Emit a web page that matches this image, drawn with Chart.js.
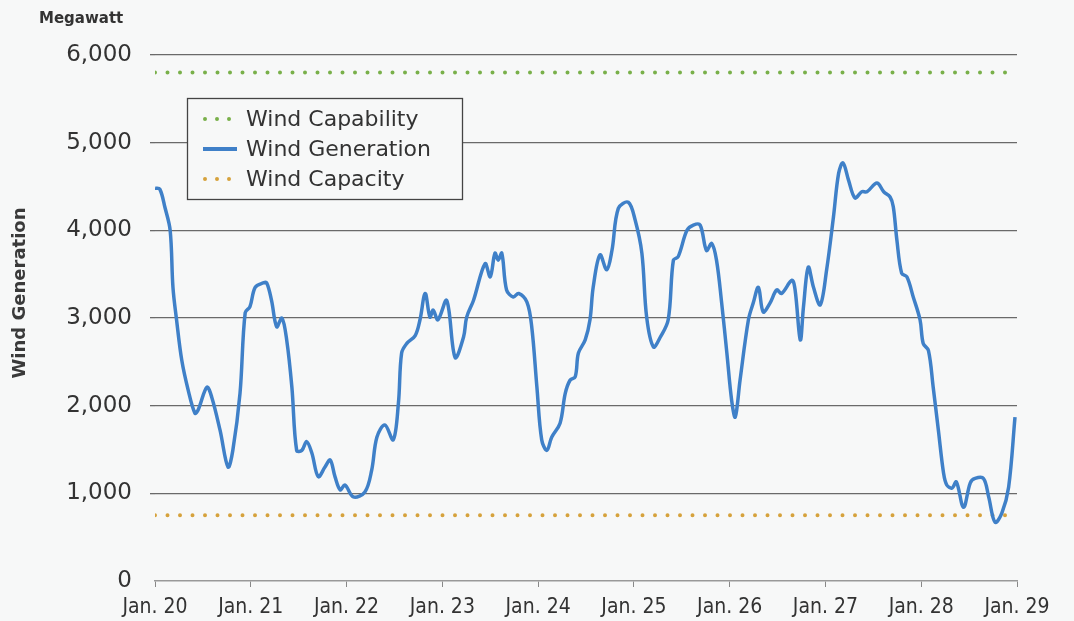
<!DOCTYPE html>
<html>
<head>
<meta charset="utf-8">
<script src="https://cdn.jsdelivr.net/npm/chart.js@4.4.0/dist/chart.umd.min.js"></script>
<style>
  html, body { margin: 0; background: #f7f8f8; }
  #wrap { width: 1074px; height: 621px; }
</style>
</head>
<body>
<div id="wrap"><canvas id="windChart"></canvas></div>
<script>
/* global Chart */
const dayLabels = ["Jan. 20", "Jan. 21", "Jan. 22", "Jan. 23", "Jan. 24", "Jan. 25", "Jan. 26", "Jan. 27", "Jan. 28", "Jan. 29"];

// hours since Jan. 20 00:00 and wind generation in MW
const hours = [
  0, 1.2, 2.5, 3.8, 4.5, 5.4, 6.7, 8.3, 10, 10.8, 13, 14.2, 16.3, 18.3, 19.5, 21.3, 22.6, 23.8,
  25.1, 27.1, 28, 29.2, 30.5, 31.8, 33, 34.3, 35.5, 36.8, 38, 39.3, 40.9, 42.6, 43.9, 45.1, 46.4, 47.6,
  49.7, 52.6, 54.3, 55.6, 57.6, 59.7, 61, 61.8, 63.1, 65.2, 66.4, 67.7, 68.9, 69.7, 70.9,
  73.1, 75.2, 77.3, 78.1, 79.8, 82.7, 84, 85.2, 86, 86.9, 88.1, 89.8, 91.1, 93.2, 94.4, 95.7,
  96.9, 98.2, 99.4, 101.5, 102.8, 104, 105.3, 106.1, 107.8, 109, 109.8, 111.5, 113.2, 114.5, 116.1, 118.6,
  120.3, 122, 123.2, 124.9, 126.6, 128.6, 129.9, 131.1, 133.3, 134.9, 136.6, 138.2, 139.5, 140.7, 142, 143.3,
  144.5, 145.4, 146.6, 148.7, 149.9, 151.2, 152.4, 154.1, 155.8, 157, 159.6, 160.4, 161.7, 162.5, 163.7, 165,
  166.7, 168.3, 170, 171.3, 172.4, 173.8, 175.4, 177.1, 178.4, 180.9, 182.6, 184.2, 185, 185.9, 187.1, 188.4,
  190, 191.7, 192.5, 193.8, 195, 196.3, 197.6, 198.4, 199.7, 200.8, 202.6, 204.3, 205.5, 207.6, 208.9, 210.5,
  212.2, 213.9, 215.5
];
const generation = [
  4480, 4470, 4260, 4000, 3350, 2980, 2520, 2180, 1915, 1950, 2210, 2100, 1720, 1300, 1490, 2140, 3060, 3130,
  3350, 3400, 3400, 3200, 2900, 3000, 2750, 2210, 1490, 1490, 1590, 1460, 1190, 1300, 1380, 1190, 1040, 1095,
  960, 1015, 1265, 1640, 1780, 1610, 2030, 2600, 2710, 2800, 2980, 3280, 3010, 3090, 2980,
  3200, 2550, 2780, 3010, 3200, 3620, 3470, 3740, 3660, 3740, 3320, 3240, 3280, 3180, 2900, 2210,
  1610, 1490, 1640, 1800, 2140, 2290, 2330, 2600, 2750, 2980, 3350, 3720, 3550, 3770, 4250, 4320,
  4120, 3740, 3010, 2670, 2780, 2980, 3660, 3700, 4000, 4060, 4060, 3770, 3850, 3660, 3170, 2600,
  2060, 1870, 2290, 2980, 3170, 3350, 3070, 3170, 3320, 3280, 3430, 3320, 2750, 3130, 3580, 3350,
  3150, 3550, 4150, 4650, 4770, 4570, 4370, 4440, 4440, 4540, 4440, 4380, 4270, 3890, 3510, 3470,
  3240, 2980, 2710, 2630, 2210, 1720, 1230, 1095, 1060, 1130, 840, 1120, 1170, 1170, 960, 670,
  775, 1070, 1870
];
const capabilityMW = 5800;
const capacityMW = 750;
const spanHours = 216;

const textColor = "#333";

// unit label, rotated axis title and the boxed legend
const decorations = {
  id: "decorations",
  afterDatasetsDraw(chart) {
    const ctx = chart.ctx;
    ctx.save();
    ctx.fillStyle = textColor;
    ctx.textBaseline = "middle";
    ctx.font = 'bold 15px "DejaVu Sans"';
    ctx.fillText("Megawatt", 39, 19);

    ctx.save();
    ctx.translate(20, 293);
    ctx.rotate(-Math.PI / 2);
    ctx.textAlign = "center";
    ctx.font = 'bold 18px "DejaVu Sans"';
    ctx.fillStyle = "#3a3a3a";
    ctx.fillText("Wind Generation", 0, 0);
    ctx.restore();

    // legend box
    ctx.fillStyle = "#f7f8f8";
    ctx.fillRect(187, 98, 276, 102);
    ctx.strokeStyle = "#444";
    ctx.lineWidth = 1.3;
    ctx.strokeRect(187.5, 98.5, 275, 101);

    ctx.font = '22px "DejaVu Sans"';
    chart.data.datasets.forEach((ds, i) => {
      const y = 119 + i * 30;
      ctx.strokeStyle = ds.borderColor;
      ctx.lineWidth = 4;
      ctx.beginPath();
      if (ds.borderDash) {
        ctx.lineCap = "round";
        ctx.setLineDash([0, 12]);
        ctx.moveTo(205, y);
        ctx.lineTo(230, y);
      } else {
        ctx.lineCap = "butt";
        ctx.moveTo(203, y);
        ctx.lineTo(237, y);
      }
      ctx.stroke();
      ctx.setLineDash([]);
      ctx.fillStyle = textColor;
      ctx.fillText(ds.label, 246, y + 1);
    });
    ctx.restore();
  },
};

const ctx = document.getElementById("windChart").getContext("2d");

new Chart(ctx, {
  type: "line",
  data: {
    datasets: [
      {
        label: "Wind Capability",
        data: [{ x: 0, y: capabilityMW }, { x: spanHours, y: capabilityMW }],
        borderColor: "#79b04a",
        borderWidth: 4,
        borderDash: [0, 12.5],
        borderCapStyle: "round",
        pointRadius: 0,
      },
      {
        label: "Wind Generation",
        data: hours.map((h, i) => ({ x: h, y: generation[i] })),
        borderColor: "#3f80c8",
        borderWidth: 3.5,
        tension: 0.35,
        pointRadius: 0,
      },
      {
        label: "Wind Capacity",
        data: [{ x: 0, y: capacityMW }, { x: spanHours, y: capacityMW }],
        borderColor: "#d6a23c",
        borderWidth: 4,
        borderDash: [0, 12.5],
        borderCapStyle: "round",
        pointRadius: 0,
      },
    ],
  },
  options: {
    responsive: true,
    maintainAspectRatio: false,
    animation: false,
    layout: { padding: { top: 55, right: 57, left: 0, bottom: 0 } },
    plugins: {
      legend: { display: false },
      tooltip: { enabled: false },
    },
    scales: {
      x: {
        type: "linear",
        min: 0,
        max: spanHours,
        afterFit: (scale) => { scale.height = 40; },
        ticks: {
          stepSize: 24,
          autoSkip: false,
          maxRotation: 0,
          padding: 8,
          color: textColor,
          font: { family: '"DejaVu Sans Condensed", "Liberation Sans", sans-serif', size: 21 },
          callback: (v) => dayLabels[v / 24],
        },
        grid: { drawOnChartArea: false, tickLength: 6, color: "#888" },
        border: { color: "#999", width: 1.5 },
      },
      y: {
        min: 0,
        max: 6000,
        afterFit: (scale) => { scale.width = 155; },
        ticks: {
          stepSize: 1000,
          padding: 18,
          color: textColor,
          font: { family: "DejaVu Sans", size: 23 },
          callback: (v) => v.toLocaleString("en-US"),
        },
        grid: {
          color: (c) => (c.tick.value === 0 ? "rgba(0,0,0,0)" : "#6a6a6a"),
          lineWidth: 1.3,
          tickLength: 5,
        },
        border: { display: false },
      },
    },
  },
  plugins: [decorations],
});
</script>
</body>
</html>
